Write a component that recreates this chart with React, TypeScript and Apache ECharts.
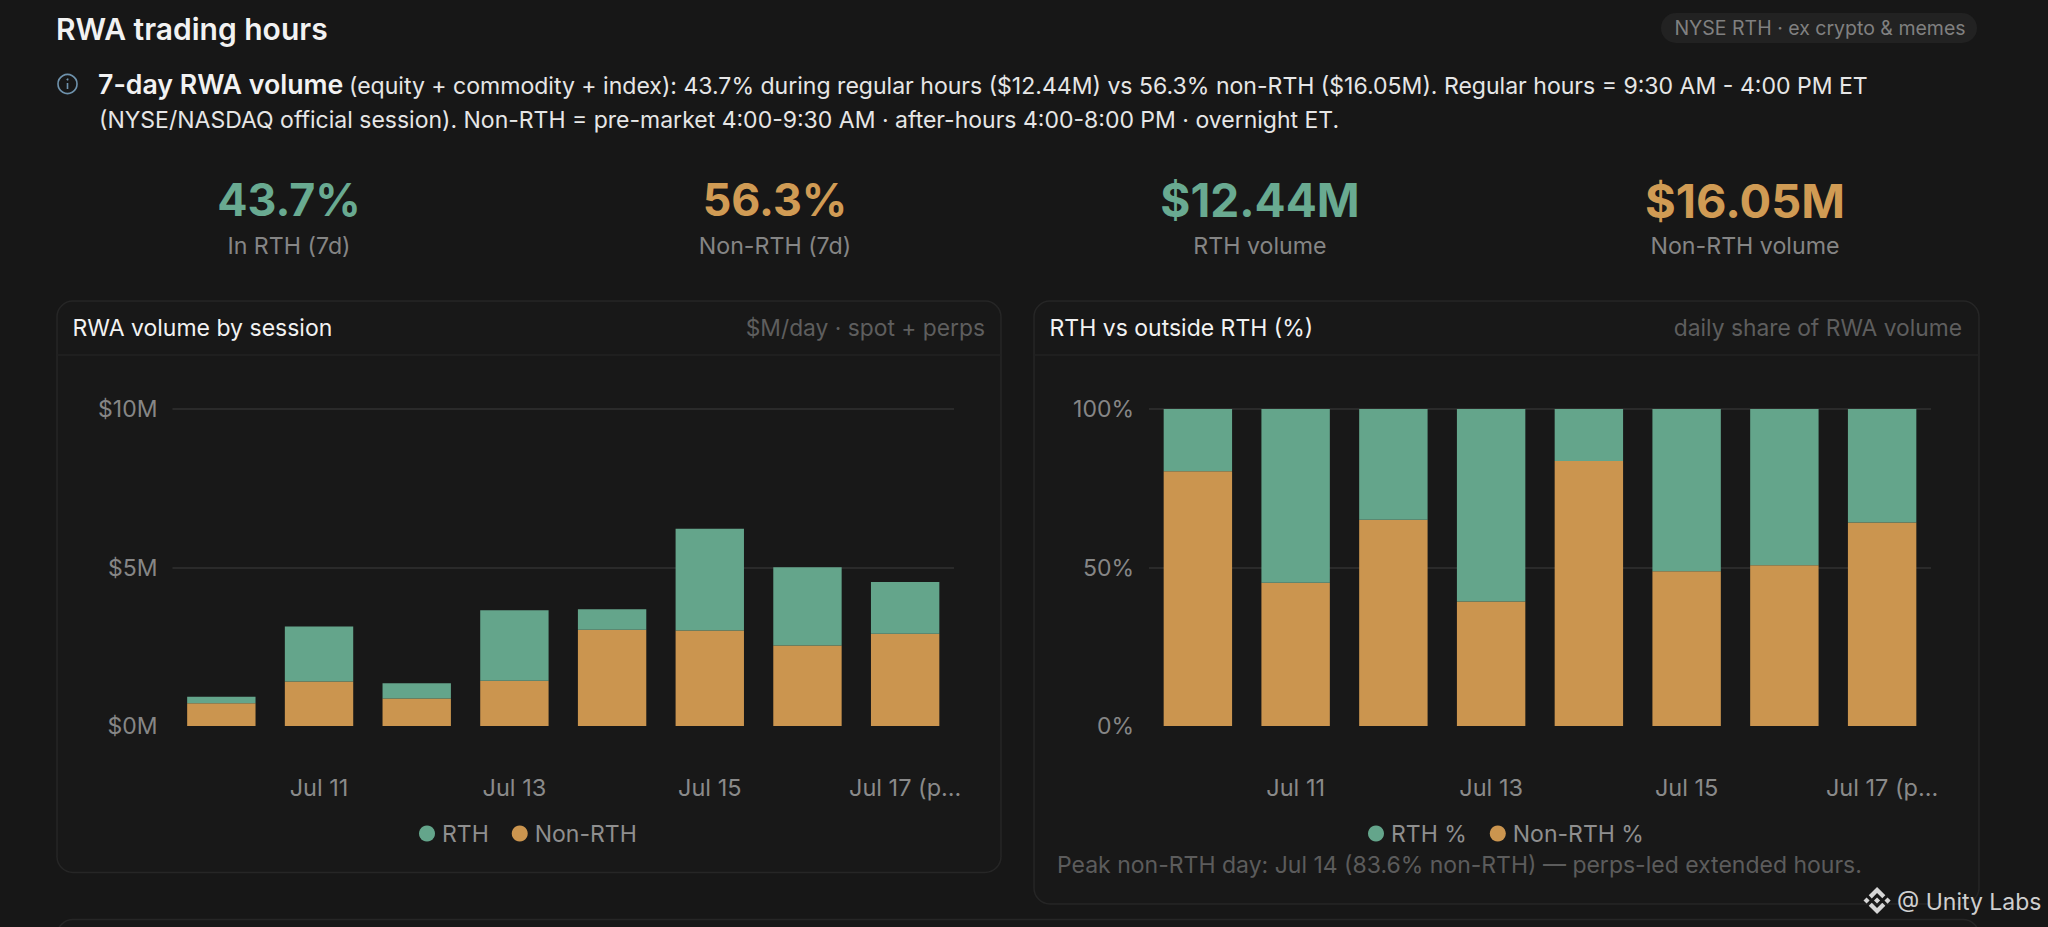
import React, { useEffect, useRef } from "react";
import * as echarts from "echarts";

const categories = ["Jul 10", "Jul 11", "Jul 12", "Jul 13", "Jul 14", "Jul 15", "Jul 16", "Jul 17 (partial)"];
const rthVolume = [0.2, 1.74, 0.48, 2.22, 0.64, 3.21, 2.47, 1.63];
const nonRthVolume = [0.72, 1.4, 0.87, 1.43, 3.04, 3.01, 2.54, 2.91];
const rthShare = [19.6, 54.8, 34.9, 60.7, 16.4, 51.2, 49.3, 35.8];
const nonRthShare = [80.4, 45.2, 65.1, 39.3, 83.6, 48.8, 50.7, 64.2];

const kpiValues = ["43.7%", "56.3%", "$12.44M", "$16.05M"];
const kpiLabels = ["In RTH (7d)", "Non-RTH (7d)", "RTH volume", "Non-RTH volume"];
const kpiCenters = [289, 775, 1260, 1745];
const kpiSizes = [44.8, 44.8, 46, 47];

const GREEN = "#64A58B";
const ORANGE = "#CB954F";
const KPI_GREEN = "#69AA91";
const KPI_ORANGE = "#D09B54";
const BG = "#171717";
const FONT = "Inter";
const logoPath =
  "M16.624 13.9202l2.7175 2.7154-7.353 7.353-7.353-7.352 2.7175-2.7164 4.6355 4.6595 4.6356-4.6595zm4.6366-4.6366L24 12l-2.7154 2.7164L18.5682 12l2.6924-2.7164zm-9.272.001l2.7163 2.6914-2.7164 2.7174v-.001L9.2721 12l2.7164-2.7154zm-9.2722-.001L5.4088 12l-2.6914 2.6924L0 12l2.7164-2.7164zM11.9885.0115l7.353 7.329-2.7174 2.7154-4.6356-4.6356-4.6355 4.6595-2.7174-2.7154 7.353-7.353z";

function txt(x: number, y: number, text: string, fontSize: number, fill: string, fontWeight: number = 400, textAlign: string = "left") {
  return {
    type: "text",
    x,
    y,
    silent: true,
    style: { text, fontSize, fill, fontWeight, fontFamily: FONT, textAlign, textVerticalAlign: "middle" },
  };
}

function card(x: number, y: number, width: number, height: number) {
  return {
    type: "rect",
    z: -10,
    silent: true,
    shape: { x, y, width, height, r: 16 },
    style: { fill: "#181818", stroke: "#262626", lineWidth: 1.5 },
  };
}

function divider(x1: number, x2: number, y: number) {
  return {
    type: "line",
    z: -9,
    silent: true,
    shape: { x1, y1: y, x2, y2: y },
    style: { stroke: "#222222", lineWidth: 1.5 },
  };
}

function xAxisFor(gridIndex: number) {
  return {
    type: "category",
    gridIndex,
    data: categories,
    axisLine: { show: false },
    axisTick: { show: false },
    axisLabel: {
      interval: (i: number) => i % 2 === 1,
      color: "#8A8A8A",
      fontFamily: FONT,
      fontSize: 23.5,
      margin: 49,
      width: 124,
      overflow: "truncate",
      ellipsis: "...",
    },
  };
}

function yAxisFor(gridIndex: number, max: number, interval: number, formatter: (v: number) => string) {
  return {
    type: "value",
    gridIndex,
    min: 0,
    max,
    interval,
    axisLine: { show: false },
    axisTick: { show: false },
    axisLabel: { color: "#868686", fontFamily: FONT, fontSize: 23, margin: 15, formatter },
    splitLine: { show: true, showMinLine: false, lineStyle: { color: "#2A2A2A", width: 2 } },
  };
}

function bar(name: string, values: number[], axis: number, color: string, stack: string) {
  return {
    name,
    type: "bar",
    stack,
    xAxisIndex: axis,
    yAxisIndex: axis,
    data: values,
    barWidth: "70%",
    itemStyle: { color },
  };
}

function legendFor(names: string[], left: number, top: number, gap: number) {
  return {
    data: names,
    left,
    top,
    icon: "circle",
    itemWidth: 16,
    itemHeight: 16,
    itemGap: gap,
    selectedMode: false,
    textStyle: { color: "#8F8F8F", fontFamily: FONT, fontSize: 23, padding: [0, 0, 0, 2] },
  };
}

export default function App() {
  const ref = useRef<HTMLDivElement>(null);

  useEffect(() => {
    document.body.style.margin = "0";
    document.body.style.background = BG;
    echarts.graphic.registerShape("bnbLogo", echarts.graphic.extendPath(logoPath as any, {}) as any);
    const chart = echarts.init(ref.current as HTMLDivElement, undefined, { renderer: "svg" });

    const kpiTexts = kpiValues.flatMap((v, i) => [
      txt(kpiCenters[i], 200, v, kpiSizes[i], i % 2 === 0 ? KPI_GREEN : KPI_ORANGE, 700, "center"),
      txt(kpiCenters[i], 246, kpiLabels[i], 23.2, "#858585", 400, "center"),
    ]);

    chart.setOption({
      animation: false,
      backgroundColor: BG,
      grid: [
        { left: 172.5, top: 409, width: 781.5, height: 317 },
        { left: 1149, top: 409, width: 782, height: 317 },
      ],
      xAxis: [xAxisFor(0), xAxisFor(1)],
      yAxis: [
        yAxisFor(0, 10, 5, (v) => `$${v}M`),
        yAxisFor(1, 100, 50, (v) => `${v}%`),
      ],
      legend: [
        legendFor(["RTH", "Non-RTH"], 414, 817, 23),
        legendFor(["RTH %", "Non-RTH %"], 1363, 817, 23),
      ],
      series: [
        bar("Non-RTH", nonRthVolume, 0, ORANGE, "vol"),
        bar("RTH", rthVolume, 0, GREEN, "vol"),
        bar("Non-RTH %", nonRthShare, 1, ORANGE, "share"),
        bar("RTH %", rthShare, 1, GREEN, "share"),
      ],
      graphic: [
        card(57, 301, 944, 571.5),
        card(1034, 301, 945, 603),
        card(57, 919.5, 1922, 60),
        divider(57, 1001, 355),
        divider(1034, 1979, 355),
        txt(56, 28.5, "RWA trading hours", 30, "#F2F2F2", 600),
        {
          type: "rect",
          z: -5,
          silent: true,
          shape: { x: 1661, y: 13, width: 316, height: 30, r: 15 },
          style: { fill: "#222222" },
        },
        txt(1820, 27.5, "NYSE RTH · ex crypto & memes", 19.5, "#808080", 400, "center"),
        { type: "circle", silent: true, shape: { cx: 67.5, cy: 84, r: 9.5 }, style: { fill: "none", stroke: "#6F93AD", lineWidth: 1.6 } },
        { type: "circle", silent: true, shape: { cx: 67.5, cy: 79.5, r: 1 }, style: { fill: "#6F93AD" } },
        { type: "line", silent: true, shape: { x1: 67.5, y1: 83, x2: 67.5, y2: 89 }, style: { stroke: "#6F93AD", lineWidth: 1.6 } },
        txt(98, 84, "7-day RWA volume", 26.7, "#F2F2F2", 600),
        txt(349, 86, "(equity + commodity + index): 43.7% during regular hours ($12.44M) vs 56.3% non-RTH ($16.05M). Regular hours = 9:30 AM - 4:00 PM ET", 23.05, "#E6E6E6"),
        txt(99, 120, "(NYSE/NASDAQ official session). Non-RTH = pre-market 4:00-9:30 AM · after-hours 4:00-8:00 PM · overnight ET.", 23, "#E6E6E6"),
        ...kpiTexts,
        txt(72.5, 328, "RWA volume by session", 23, "#F2F2F2", 400),
        txt(985, 327.5, "$M/day · spot + perps", 22.8, "#5E5E5E", 400, "right"),
        txt(1049.5, 328, "RTH vs outside RTH (%)", 23, "#F2F2F2", 400),
        txt(1962, 327.5, "daily share of RWA volume", 22.8, "#5E5E5E", 400, "right"),
        txt(1057, 865, "Peak non-RTH day: Jul 14 (83.6% non-RTH) — perps-led extended hours.", 23, "#5C5C5C"),
        { type: "bnbLogo", x: 1863.5, y: 887, scaleX: 1.13, scaleY: 1.13, silent: true, style: { fill: "#D6D6D6" } },
        txt(1897, 902, "@ Unity Labs", 23, "#CFCFCF"),
      ],
    });

    return () => chart.dispose();
  }, []);

  return <div ref={ref} style={{ position: "fixed", left: 0, top: 0, width: 2048, height: 927 }} />;
}
